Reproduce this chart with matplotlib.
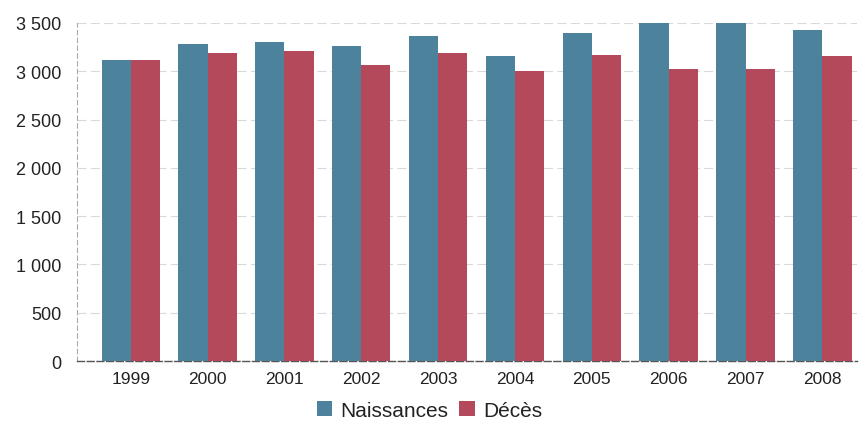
import matplotlib
matplotlib.use("Agg")
import matplotlib.pyplot as plt
import numpy as np
from matplotlib.ticker import FuncFormatter

years = ["1999", "2000", "2001", "2002", "2003", "2004", "2005", "2006", "2007", "2008"]
naissances = [3113, 3285, 3306, 3264, 3361, 3161, 3395, 3560, 3560, 3422]
deces = [3120, 3189, 3206, 3068, 3189, 2999, 3171, 3024, 3024, 3161]
y_ticks = [0, 500, 1000, 1500, 2000, 2500, 3000, 3500]

plt.rcParams["font.family"] = ["Liberation Sans", "DejaVu Sans"]

fig = plt.figure(figsize=(8.59, 4.27), dpi=100)
ax = fig.add_axes([0.0896, 0.152, 0.908, 0.792])

x = np.arange(len(years))
w = 0.38
blue = "#4d829c"
red = "#b3495b"
ax.bar(x - w / 2, naissances, width=w, color=blue, label="Naissances", zorder=3)
ax.bar(x + w / 2, deces, width=w, color=red, label="Décès", zorder=3)

ax.set_ylim(0, 3500)
ax.set_xlim(-0.70, 9.45)
ax.set_yticks(y_ticks)
ax.yaxis.set_major_formatter(FuncFormatter(lambda v, p: f"{int(v):,}".replace(",", " ")))
ax.set_xticks(x)
ax.set_xticklabels(years)
ax.tick_params(axis="both", length=0, colors="#222222")
ax.tick_params(axis="y", pad=11, labelsize=13)
ax.tick_params(axis="x", pad=7, labelsize=12.5)

ax.grid(axis="y", color="#d8d8d8", linestyle=(0, (8, 4)), linewidth=0.8, zorder=0)
for s in ("top", "right"):
    ax.spines[s].set_visible(False)
ax.spines["left"].set_color("#aaaaaa")
ax.spines["left"].set_linestyle((0, (4, 3)))
ax.spines["left"].set_linewidth(0.8)
ax.spines["bottom"].set_color("#555555")
ax.spines["bottom"].set_linestyle((0, (5, 2)))
ax.spines["bottom"].set_linewidth(1.0)

fig.legend(loc="lower center", bbox_to_anchor=(0.5, -0.03), ncol=2, frameon=False,
           fontsize=15, handlelength=0.75, handleheight=0.75, handletextpad=0.4,
           columnspacing=0.5, labelcolor="#222222")

fig.savefig("out.png", dpi=100)
